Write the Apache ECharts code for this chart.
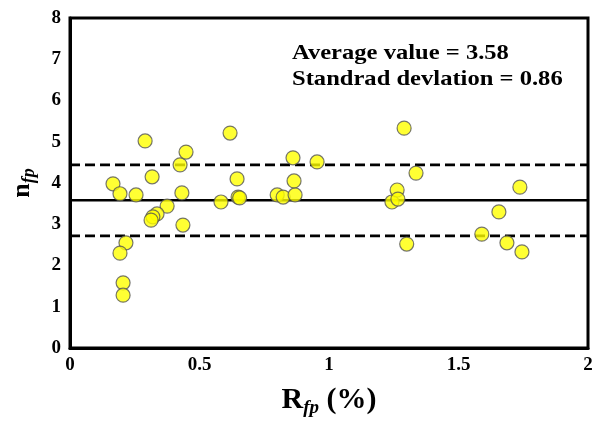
<!DOCTYPE html>
<html>
<head>
<meta charset="utf-8">
<script src="https://cdn.jsdelivr.net/npm/echarts@6/dist/echarts.min.js"></script>
<style>
  html, body { margin: 0; padding: 0; background: #fff; }
  #chart { width: 603px; height: 423px; }
</style>
</head>
<body>
<div id="chart"></div>
<script>
// R_fp (%) and n_fp
const rfp = [0.166, 0.193, 0.255, 0.290, 0.317, 0.216, 0.193, 0.205, 0.205,
  0.375, 0.336, 0.320, 0.313, 0.425, 0.448, 0.432, 0.436,
  0.583, 0.618, 0.645, 0.649, 0.655, 0.800, 0.823, 0.869, 0.865, 0.861, 0.954,
  1.243, 1.263, 1.290, 1.336, 1.266, 1.300,
  1.737, 1.656, 1.590, 1.687, 1.745]
const nfp = [3.98, 3.74, 3.71, 5.02, 4.15, 2.55, 2.30, 1.58, 1.28,
  3.44, 3.25, 3.18, 3.10, 4.44, 4.75, 3.76, 2.98,
  3.54, 5.21, 4.10, 3.66, 3.64, 3.71, 3.66, 3.71, 4.05, 4.61, 4.51,
  3.54, 3.83, 5.33, 4.24, 3.61, 2.52,
  3.90, 3.30, 2.76, 2.55, 2.33]
const meanValue = 3.58
const stdDev = 0.86
const xRange = [0, 2]

const serif = '"Liberation Serif", "DejaVu Serif", serif'
const points = rfp.map((v, i) => [v, nfp[i]])

// horizontal reference line across the whole x range
const hLine = (y, type, width) => ({
  type: 'line',
  data: xRange.map(x => [x, y]),
  symbol: 'none',
  silent: true,
  z: 1,
  lineStyle: { color: '#000', width: width, type: type }
})

const myChart = echarts.init(document.getElementById('chart'))
myChart.setOption({
  backgroundColor: '#fff',
  animation: false,
  grid: {
    left: 70, right: 15, top: 18, bottom: 75,
    outerBoundsMode: 'none',
    containLabel: false,
    show: true, borderColor: '#000', borderWidth: 3
  },
  xAxis: {
    type: 'value', min: 0, max: 2, interval: 0.5,
    splitLine: { show: false },
    axisTick: { show: false },
    axisLine: { lineStyle: { color: '#000', width: 3 } },
    axisLabel: {
      color: '#000', fontFamily: serif, fontWeight: 'bold', fontSize: 19, margin: 8,
      formatter: v => String(v)
    },
    name: '{b|R}{s|fp}{b| (%)}',
    nameLocation: 'middle',
    nameGap: 34,
    nameTextStyle: {
      rich: {
        b: { fontFamily: serif, fontWeight: 'bold', fontSize: 30, color: '#000' },
        s: { fontFamily: serif, fontWeight: 'bold', fontStyle: 'italic', fontSize: 19, color: '#000', padding: [17, 0, 0, 0] }
      }
    }
  },
  yAxis: {
    type: 'value', min: 0, max: 8, interval: 1,
    splitLine: { show: false },
    axisTick: { show: false },
    axisLine: { lineStyle: { color: '#000', width: 3 } },
    axisLabel: { color: '#000', fontFamily: serif, fontWeight: 'bold', fontSize: 19, margin: 9 },
    name: '{b|n}{s|fp}',
    nameLocation: 'middle',
    nameRotate: 90,
    nameGap: 32,
    nameTextStyle: {
      rich: {
        b: { fontFamily: serif, fontWeight: 'bold', fontSize: 26, color: '#000' },
        s: { fontFamily: serif, fontWeight: 'bold', fontStyle: 'italic', fontSize: 18, color: '#000', padding: [14, 0, 0, 0] }
      }
    }
  },
  graphic: [
    {
      type: 'text', x: 292, y: 41, scaleX: 1.17,
      style: {
        text: 'Average value = 3.58\nStandrad devlation = 0.86',
        font: 'bold 21px ' + serif, fill: '#000', lineHeight: 26
      }
    }
  ],
  series: [
    hLine(meanValue, 'solid', 2.5),
    hLine(meanValue + stdDev, [10, 5], 2.8),
    hLine(meanValue - stdDev, [10, 5], 2.8),
    {
      type: 'scatter',
      data: points,
      symbolSize: 14,
      z: 3,
      itemStyle: { color: '#ffff00', borderColor: '#555', borderWidth: 1.2 }
    }
  ]
})
</script>
</body>
</html>
